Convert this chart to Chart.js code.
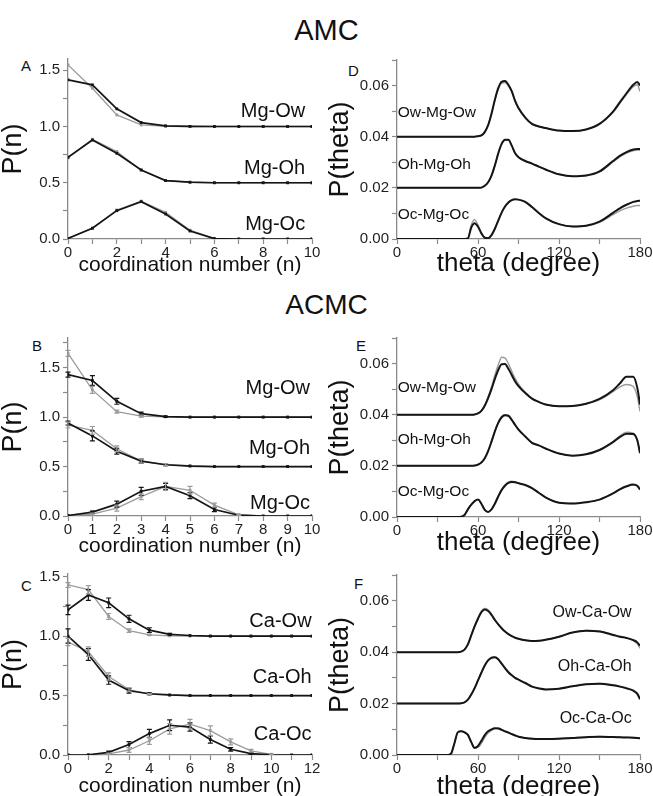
<!DOCTYPE html>
<html>
<head>
<meta charset="utf-8">
<script src="https://cdn.jsdelivr.net/npm/chart.js@4.4.1/dist/chart.umd.min.js"></script>
<style>
  body { margin: 0; width: 653px; height: 796px; overflow: hidden; background: #fff; position: relative;
         font-family: 'Liberation Sans', Arial, sans-serif; color: #111; }
  canvas { position: absolute; }
  .big { position: absolute; left: 0; width: 653px; text-align: center; line-height: 1; }
  .tag { position: absolute; font-size: 15px; line-height: 1; }
</style>
</head>
<body>
<div class="big" style="top:16px;font-size:29px">AMC</div>
<div class="big" style="top:291px;font-size:28px">ACMC</div>
<div class="tag" style="left:21px;top:58px">A</div>
<div class="tag" style="left:348px;top:63px">D</div>
<div class="tag" style="left:32px;top:338px">B</div>
<div class="tag" style="left:356px;top:338px">E</div>
<div class="tag" style="left:21px;top:578px">C</div>
<div class="tag" style="left:354px;top:576px">F</div>

<canvas id="cA" width="330" height="236" style="left:0;top:40px"></canvas>
<canvas id="cD" width="333" height="237" style="left:320px;top:40px"></canvas>
<canvas id="cB" width="330" height="239" style="left:0;top:318px"></canvas>
<canvas id="cE" width="333" height="238" style="left:320px;top:318px"></canvas>
<canvas id="cC" width="330" height="242" style="left:0;top:555px"></canvas>
<canvas id="cF" width="333" height="245" style="left:320px;top:555px"></canvas>

<script>
// ---- coordination number distributions P(n) (raw values, curves shifted by offsets) ----
const nAB = [0, 1, 2, 3, 4, 5, 6, 7, 8, 9, 10];
const nC = [0, 1, 2, 3, 4, 5, 6, 7, 8, 9, 10, 11, 12];
const nOffsets = [1.0, 0.5, 0.0];
const labelsMg = ['Mg-Ow', 'Mg-Oh', 'Mg-Oc'];
const labelsCa = ['Ca-Ow', 'Ca-Oh', 'Ca-Oc'];

// A (AMC, Mg)
const aOwBlack = [0.415, 0.37, 0.157, 0.035, 0.006, 0.001, 0, 0, 0, 0, 0];
const aOwGray  = [0.548, 0.34, 0.103, 0.014, 0.002, 0, 0, 0, 0, 0, 0];
const aOhBlack = [0.227, 0.38, 0.262, 0.114, 0.019, 0.005, 0, 0, 0, 0, 0];
const aOhGray  = [0.222, 0.387, 0.277, 0.112, 0.02, 0.003, 0, 0, 0, 0, 0];
const aOcBlack = [0.005, 0.095, 0.252, 0.332, 0.222, 0.071, 0.003, 0, 0, 0, 0];
const aOcGray  = [0.005, 0.098, 0.258, 0.337, 0.237, 0.078, 0.004, 0, 0, 0, 0];

// B (ACMC, Mg) with error bars
const bOwBlack = [0.43, 0.37, 0.16, 0.035, 0.005, 0, 0, 0, 0, 0, 0];
const bOwBlackErr = [0.025, 0.05, 0.03, 0.015, 0.005, 0, 0, 0, 0, 0, 0];
const bOwGray  = [0.645, 0.275, 0.055, 0.01, 0.002, 0, 0, 0, 0, 0, 0];
const bOwGrayErr = [0.03, 0.035, 0.015, 0.01, 0, 0, 0, 0, 0, 0, 0];
const bOhBlack = [0.44, 0.31, 0.155, 0.055, 0.018, 0.005, 0, 0, 0, 0, 0];
const bOhBlackErr = [0.02, 0.05, 0.03, 0.02, 0.01, 0, 0, 0, 0, 0, 0];
const bOhGray  = [0.42, 0.365, 0.18, 0.055, 0.02, 0.008, 0, 0, 0, 0, 0];
const bOhGrayErr = [0.03, 0.04, 0.03, 0.02, 0.01, 0, 0, 0, 0, 0, 0];
const bOcBlack = [0.005, 0.04, 0.12, 0.25, 0.30, 0.205, 0.065, 0.008, 0, 0, 0];
const bOcBlackErr = [0, 0.01, 0.03, 0.04, 0.03, 0.03, 0.02, 0, 0, 0, 0];
const bOcGray  = [0.005, 0.02, 0.08, 0.195, 0.30, 0.26, 0.11, 0.012, 0, 0, 0];
const bOcGrayErr = [0, 0.01, 0.03, 0.03, 0.04, 0.04, 0.02, 0.005, 0, 0, 0];

// C (ACMC, Ca) with error bars
const cOwBlack = [0.22, 0.345, 0.28, 0.145, 0.05, 0.015, 0.005, 0, 0, 0, 0, 0, 0];
const cOwBlackErr = [0.04, 0.045, 0.04, 0.03, 0.02, 0.008, 0, 0, 0, 0, 0, 0, 0];
const cOwGray  = [0.43, 0.39, 0.165, 0.045, 0.01, 0.002, 0, 0, 0, 0, 0, 0, 0];
const cOwGrayErr = [0.02, 0.035, 0.025, 0.015, 0.005, 0, 0, 0, 0, 0, 0, 0, 0];
const cOhBlack = [0.5, 0.345, 0.13, 0.04, 0.015, 0.005, 0, 0, 0, 0, 0, 0, 0];
const cOhBlackErr = [0.06, 0.05, 0.035, 0.02, 0.008, 0, 0, 0, 0, 0, 0, 0, 0];
const cOhGray  = [0.45, 0.37, 0.16, 0.05, 0.012, 0.003, 0, 0, 0, 0, 0, 0, 0];
const cOhGrayErr = [0.03, 0.04, 0.03, 0.015, 0.005, 0, 0, 0, 0, 0, 0, 0, 0];
const cOcBlack = [0, 0.002, 0.022, 0.088, 0.18, 0.25, 0.235, 0.13, 0.048, 0.012, 0.002, 0, 0];
const cOcBlackErr = [0, 0, 0.01, 0.025, 0.035, 0.045, 0.035, 0.03, 0.015, 0.008, 0, 0, 0];
const cOcGray  = [0, 0, 0.01, 0.042, 0.12, 0.22, 0.26, 0.205, 0.11, 0.035, 0.006, 0, 0];
const cOcGrayErr = [0, 0, 0.005, 0.02, 0.03, 0.045, 0.04, 0.04, 0.025, 0.012, 0.003, 0, 0];

// ---- bond angle distributions P(theta) ----
const theta = [0, 35, 37.5, 40, 42.5, 45, 47.5, 50, 52.5, 55, 57.5, 60, 62.5, 65, 67.5, 70, 72.5, 75, 77.5, 80,
               82.5, 85, 87.5, 90, 95, 100, 105, 110, 120, 130, 140, 150, 160, 165, 170, 175, 178, 180];
const tOffsets = [0.04, 0.02, 0.0];
const anglesMg = ['Ow-Mg-Ow', 'Oh-Mg-Oh', 'Oc-Mg-Oc'];
const anglesCa = ['Ow-Ca-Ow', 'Oh-Ca-Oh', 'Oc-Ca-Oc'];

// D (AMC, Mg)
const dOwBlack = [0,0,0,0,0,0,0,0,0,0,0, 0.0002,0.0005,0.0018,0.0045,0.0090,0.0145,0.0190,0.0215,0.0218,
                  0.0203,0.0178,0.0140,0.0112,0.0075,0.0050,0.0040,0.0034,0.0024,0.0022,0.0028,0.0050,0.0098,0.0134,0.0170,0.0203,0.0214,0.0200];
const dOwGray  = [0,0,0,0,0,0,0,0,0,0,0, 0.0002,0.0005,0.0018,0.0045,0.0090,0.0143,0.0186,0.0210,0.0212,
                  0.0198,0.0175,0.0138,0.0110,0.0074,0.0050,0.0040,0.0034,0.0024,0.0022,0.0028,0.0049,0.0095,0.0130,0.0165,0.0196,0.0203,0.0177];
const dOhBlack = [0,0,0,0,0,0,0,0,0,0,0,0, 0.0001,0.0008,0.0022,0.0048,0.0088,0.0135,0.0172,0.0188,
                  0.0188,0.0165,0.0135,0.0120,0.0105,0.0095,0.0083,0.0072,0.0053,0.0045,0.0048,0.0064,0.0105,0.0125,0.0140,0.0150,0.0152,0.0152];
const dOhGray  = [0,0,0,0,0,0,0,0,0,0,0,0, 0.0001,0.0008,0.0022,0.0048,0.0088,0.0134,0.0170,0.0186,
                  0.0187,0.0165,0.0136,0.0121,0.0105,0.0095,0.0083,0.0072,0.0053,0.0045,0.0047,0.0062,0.0101,0.0121,0.0136,0.0145,0.0148,0.0147];
const dOcBlack = [0,0,0,0,0,0,0,0, 0.0002,0.0045,0.0062,0.0048,0.0022,0.0005,0.0003,0.0015,0.0040,0.0072,0.0103,0.0127,
                  0.0143,0.0152,0.0155,0.0154,0.0145,0.0125,0.0102,0.0082,0.0058,0.0049,0.0052,0.0068,0.0102,0.0120,0.0134,0.0145,0.0149,0.0150];
const dOcGray  = [0,0,0,0,0,0,0,0, 0.0003,0.0055,0.0075,0.0055,0.0025,0.0006,0.0003,0.0015,0.0040,0.0072,0.0103,0.0127,
                  0.0143,0.0152,0.0155,0.0154,0.0145,0.0125,0.0102,0.0082,0.0058,0.0049,0.0051,0.0065,0.0095,0.0110,0.0121,0.0128,0.0131,0.0131];

// E (ACMC, Mg)
const eOwBlack = [0,0,0,0,0,0,0,0,0,0, 0.0001,0.0005,0.0015,0.0035,0.0065,0.0100,0.0140,0.0175,0.0197,0.0198,
                  0.0180,0.0155,0.0130,0.0112,0.0085,0.0063,0.0050,0.0040,0.0033,0.0034,0.0043,0.0062,0.0096,0.0122,0.0148,0.0148,0.0105,0.0040];
const eOwGray  = [0,0,0,0,0,0,0,0,0,0, 0.0001,0.0005,0.0016,0.0038,0.0070,0.0110,0.0155,0.0195,0.0225,0.0222,
                  0.0200,0.0170,0.0142,0.0120,0.0088,0.0064,0.0050,0.0040,0.0033,0.0034,0.0042,0.0058,0.0090,0.0108,0.0118,0.0110,0.0070,0.0013];
const eOhBlack = [0,0,0,0,0,0,0,0,0,0, 0.0001,0.0005,0.0013,0.0030,0.0058,0.0095,0.0135,0.0168,0.0190,0.0198,
                  0.0196,0.0180,0.0160,0.0142,0.0115,0.0090,0.0080,0.0068,0.0048,0.0040,0.0045,0.0062,0.0093,0.0112,0.0126,0.0125,0.0100,0.0050];
const eOhGray  = [0,0,0,0,0,0,0,0,0,0, 0.0001,0.0005,0.0013,0.0030,0.0058,0.0095,0.0136,0.0170,0.0193,0.0200,
                  0.0196,0.0180,0.0160,0.0142,0.0115,0.0090,0.0080,0.0068,0.0048,0.0040,0.0045,0.0062,0.0095,0.0117,0.0132,0.0128,0.0100,0.0048];
const eOcBlack = [0,0,0,0,0,0, 0.0001,0.0008,0.0030,0.0048,0.0062,0.0068,0.0052,0.0028,0.0020,0.0030,0.0052,0.0080,0.0105,0.0122,
                  0.0133,0.0137,0.0136,0.0132,0.0125,0.0113,0.0095,0.0077,0.0056,0.0053,0.0058,0.0068,0.0092,0.0108,0.0120,0.0127,0.0122,0.0108];
const eOcGray  = [0,0,0,0,0,0, 0.0001,0.0008,0.0030,0.0048,0.0062,0.0068,0.0052,0.0028,0.0020,0.0030,0.0054,0.0083,0.0108,0.0126,
                  0.0136,0.0140,0.0138,0.0133,0.0125,0.0113,0.0095,0.0077,0.0056,0.0053,0.0058,0.0068,0.0092,0.0107,0.0119,0.0125,0.0120,0.0106];

// F (ACMC, Ca)
const fOwBlack = [0,0,0,0,0,0, 0.0002,0.0010,0.0030,0.0065,0.0100,0.0130,0.0155,0.0166,0.0160,0.0145,0.0125,0.0108,0.0093,0.0080,
                  0.0070,0.0062,0.0056,0.0052,0.0046,0.0043,0.0044,0.0048,0.0060,0.0076,0.0083,0.0080,0.0067,0.0060,0.0055,0.0047,0.0038,0.0025];
const fOwGray  = [0,0,0,0,0,0, 0.0002,0.0010,0.0031,0.0067,0.0103,0.0134,0.0160,0.0170,0.0165,0.0148,0.0127,0.0109,0.0094,0.0081,
                  0.0071,0.0062,0.0056,0.0052,0.0046,0.0043,0.0044,0.0048,0.0060,0.0076,0.0084,0.0081,0.0069,0.0062,0.0056,0.0045,0.0032,0.0015];
const fOhBlack = [0,0,0,0,0,0, 0.0001,0.0005,0.0015,0.0035,0.0060,0.0090,0.0120,0.0148,0.0168,0.0178,0.0180,0.0172,0.0155,0.0138,
                  0.0122,0.0110,0.0100,0.0093,0.0080,0.0066,0.0059,0.0055,0.0058,0.0067,0.0075,0.0077,0.0071,0.0066,0.0059,0.0050,0.0038,0.0017];
const fOhGray  = [0,0,0,0,0,0, 0.0001,0.0005,0.0015,0.0035,0.0061,0.0092,0.0123,0.0150,0.0170,0.0180,0.0181,0.0172,0.0156,0.0139,
                  0.0123,0.0110,0.0100,0.0093,0.0080,0.0066,0.0059,0.0055,0.0058,0.0067,0.0075,0.0078,0.0073,0.0068,0.0062,0.0052,0.0040,0.0020];
const fOcBlack = [0,0,0, 0.0005,0.0045,0.0088,0.0092,0.0088,0.0078,0.0050,0.0027,0.0035,0.0055,0.0077,0.0092,0.0100,0.0104,0.0103,0.0098,0.0092,
                  0.0087,0.0081,0.0076,0.0071,0.0066,0.0063,0.0062,0.0062,0.0063,0.0066,0.0069,0.0071,0.0070,0.0069,0.0068,0.0067,0.0066,0.0065];
const fOcGray  = [0,0,0, 0.0005,0.0045,0.0088,0.0093,0.0090,0.0080,0.0052,0.0030,0.0030,0.0045,0.0068,0.0085,0.0096,0.0103,0.0105,0.0100,0.0094,
                  0.0088,0.0082,0.0077,0.0072,0.0067,0.0064,0.0063,0.0063,0.0064,0.0067,0.0070,0.0072,0.0071,0.0070,0.0069,0.0068,0.0067,0.0066];

const BLACK = '#151515';
const GRAY = '#9b9b9b';
const AXIS = '#8a8a8a';
const FONT = "'Liberation Sans', Arial, sans-serif";

Chart.defaults.font.family = FONT;
Chart.defaults.font.size = 15;
Chart.defaults.color = '#222';

// vertical error bars with small caps
const errorBars = {
    id: 'errorBars',
    afterDatasetsDraw(chart) {
        const { ctx, scales: { x, y } } = chart;
        chart.data.datasets.forEach(ds => {
            if (!ds.errors) return;
            ctx.save();
            ctx.strokeStyle = ds.borderColor;
            ctx.lineWidth = 1.2;
            ds.data.forEach((p, j) => {
                const e = ds.errors[j];
                if (!e) return;
                const px = x.getPixelForValue(p.x);
                const y1 = y.getPixelForValue(p.y - e);
                const y2 = y.getPixelForValue(p.y + e);
                ctx.beginPath();
                ctx.moveTo(px, y1); ctx.lineTo(px, y2);
                ctx.moveTo(px - 2.5, y1); ctx.lineTo(px + 2.5, y1);
                ctx.moveTo(px - 2.5, y2); ctx.lineTo(px + 2.5, y2);
                ctx.stroke();
            });
            ctx.restore();
        });
    }
};

// curve names written next to each shifted curve
const curveLabels = {
    id: 'curveLabels',
    afterDraw(chart, args, opts) {
        const { ctx, scales: { x, y } } = chart;
        ctx.save();
        ctx.fillStyle = '#111';
        ctx.font = opts.size + 'px ' + FONT;
        ctx.textAlign = opts.align;
        ctx.textBaseline = 'middle';
        opts.items.forEach(it => ctx.fillText(it[0], x.getPixelForValue(it[1]), y.getPixelForValue(it[2])));
        ctx.restore();
    }
};

function pts(xs, ys, off) {
    return xs.map((v, i) => ({ x: v, y: ys[i] + off }));
}

function nSet(xs, ys, off, color, errs) {
    return {
        data: pts(xs, ys, off), borderColor: color, backgroundColor: color,
        borderWidth: color === BLACK ? 1.7 : 1.3, pointStyle: 'rect', pointRadius: 2,
        pointBorderWidth: 0, pointBackgroundColor: color, tension: 0, errors: errs
    };
}

function tSet(ys, off, color) {
    return {
        data: pts(theta, ys, off), borderColor: color,
        borderWidth: color === BLACK ? 2 : 1.4, pointRadius: 0,
        cubicInterpolationMode: 'monotone', fill: false
    };
}

function axis(o) {
    return {
        type: 'linear', min: o.min, max: o.max,
        ticks: { stepSize: o.step, autoSkip: false, includeBounds: false, maxRotation: 0,
                 padding: o.pad, font: { size: 15, family: FONT }, color: '#1e1e1e', callback: o.fmt },
        grid: { drawOnChartArea: false, tickLength: 5, tickColor: AXIS, tickWidth: 1.2 },
        border: { color: AXIS, width: 1.3 },
        title: { display: true, text: o.title, font: { size: o.titleSize, lineHeight: 1, family: FONT }, color: '#111',
                 padding: { top: o.titlePad || 0, bottom: 0 } },
        afterFit: o.fit
    };
}

function panel(id, g, datasets, xo, yo, labels) {
    return new Chart(document.getElementById(id), {
        type: 'line',
        data: { datasets: datasets },
        options: {
            responsive: false, animation: false, events: [],
            layout: { padding: { top: g.top, right: g.right, bottom: 0, left: 0 } },
            plugins: { legend: { display: false }, tooltip: { enabled: false }, curveLabels: labels },
            scales: {
                x: axis(Object.assign({ pad: 0, fit: s => { s.height = g.xh; } }, xo)),
                y: axis(Object.assign({ pad: 3, fit: s => { s.width = g.yw; } }, yo))
            }
        },
        plugins: [errorBars, curveLabels]
    });
}

const evenInt = v => (v % 2 === 0 ? String(v) : '');
const allInt = v => String(v);
const halfY = v => (Math.round(v / 0.25) % 2 === 0 ? v.toFixed(1) : '');
const deg60 = v => (Math.round(v) % 60 === 0 ? String(Math.round(v)) : '');
const p02 = v => (Math.round(v * 100) % 2 === 0 ? v.toFixed(2) : '');

const nX = (max, fmt) => ({ min: 0, max: max, step: 1, fmt: fmt, title: 'coordination number (n)', titleSize: 21 });
const nY = max => ({ min: 0, max: max, step: 0.25, fmt: halfY, title: 'P(n)', titleSize: 27 });
const tX = { min: 0, max: 180, step: 30, fmt: deg60, title: 'theta (degree)', titleSize: 26 };
const tY = { min: 0, max: 0.07, step: 0.01, fmt: p02, title: 'P(theta)', titleSize: 27, titlePad: 7 };

function nLabels(names, xr, ys) {
    return { size: 20, align: 'right', items: names.map((t, i) => [t, xr, ys[i]]) };
}
function tLabels(names, xr, ys, size, align) {
    return { size: size, align: align, items: names.map((t, i) => [t, xr, ys[i]]) };
}

// A
panel('cA', { top: 19, right: 18, xh: 37, yw: 68 }, [
    nSet(nAB, aOwBlack, nOffsets[0], BLACK), nSet(nAB, aOhBlack, nOffsets[1], BLACK), nSet(nAB, aOcBlack, nOffsets[2], BLACK),
    nSet(nAB, aOwGray, nOffsets[0], GRAY), nSet(nAB, aOhGray, nOffsets[1], GRAY), nSet(nAB, aOcGray, nOffsets[2], GRAY)
], nX(10, evenInt), nY(1.6), nLabels(labelsMg, 9.72, [1.13, 0.63, 0.125]));

// B
panel('cB', { top: 20, right: 18, xh: 41, yw: 68 }, [
    nSet(nAB, bOwBlack, nOffsets[0], BLACK, bOwBlackErr), nSet(nAB, bOhBlack, nOffsets[1], BLACK, bOhBlackErr),
    nSet(nAB, bOcBlack, nOffsets[2], BLACK, bOcBlackErr),
    nSet(nAB, bOwGray, nOffsets[0], GRAY, bOwGrayErr), nSet(nAB, bOhGray, nOffsets[1], GRAY, bOhGrayErr),
    nSet(nAB, bOcGray, nOffsets[2], GRAY, bOcGrayErr)
], nX(10, allInt), nY(1.8), nLabels(labelsMg, 9.92, [1.29, 0.685, 0.128]));

// C
panel('cC', { top: 19, right: 18, xh: 42, yw: 68 }, [
    nSet(nC, cOwBlack, nOffsets[0], BLACK, cOwBlackErr), nSet(nC, cOhBlack, nOffsets[1], BLACK, cOhBlackErr),
    nSet(nC, cOcBlack, nOffsets[2], BLACK, cOcBlackErr),
    nSet(nC, cOwGray, nOffsets[0], GRAY, cOwGrayErr), nSet(nC, cOhGray, nOffsets[1], GRAY, cOhGrayErr),
    nSet(nC, cOcGray, nOffsets[2], GRAY, cOcGrayErr)
], nX(12, evenInt), nY(1.522), nLabels(labelsCa, 11.98, [1.12, 0.65, 0.17]));

// D
panel('cD', { top: 20, right: 13, xh: 38, yw: 77 }, [
    tSet(dOwBlack, tOffsets[0], BLACK), tSet(dOhBlack, tOffsets[1], BLACK), tSet(dOcBlack, tOffsets[2], BLACK),
    tSet(dOwGray, tOffsets[0], GRAY), tSet(dOhGray, tOffsets[1], GRAY), tSet(dOcGray, tOffsets[2], GRAY)
], tX, tY, tLabels(anglesMg, 0.5, [0.0492, 0.0289, 0.0094], 15.5, 'left'));

// E
panel('cE', { top: 20, right: 13, xh: 39, yw: 77 }, [
    tSet(eOwBlack, tOffsets[0], BLACK), tSet(eOhBlack, tOffsets[1], BLACK), tSet(eOcBlack, tOffsets[2], BLACK),
    tSet(eOwGray, tOffsets[0], GRAY), tSet(eOhGray, tOffsets[1], GRAY), tSet(eOcGray, tOffsets[2], GRAY)
], tX, tY, tLabels(anglesMg, 0.5, [0.0507, 0.0301, 0.0099], 15.5, 'left'));

// F
panel('cF', { top: 20, right: 13, xh: 45, yw: 77 }, [
    tSet(fOwBlack, tOffsets[0], BLACK), tSet(fOhBlack, tOffsets[1], BLACK), tSet(fOcBlack, tOffsets[2], BLACK),
    tSet(fOwGray, tOffsets[0], GRAY), tSet(fOhGray, tOffsets[1], GRAY), tSet(fOcGray, tOffsets[2], GRAY)
], tX, tY, tLabels(anglesCa, 173.8, [0.0554, 0.0345, 0.014], 16, 'right'));
</script>
</body>
</html>
